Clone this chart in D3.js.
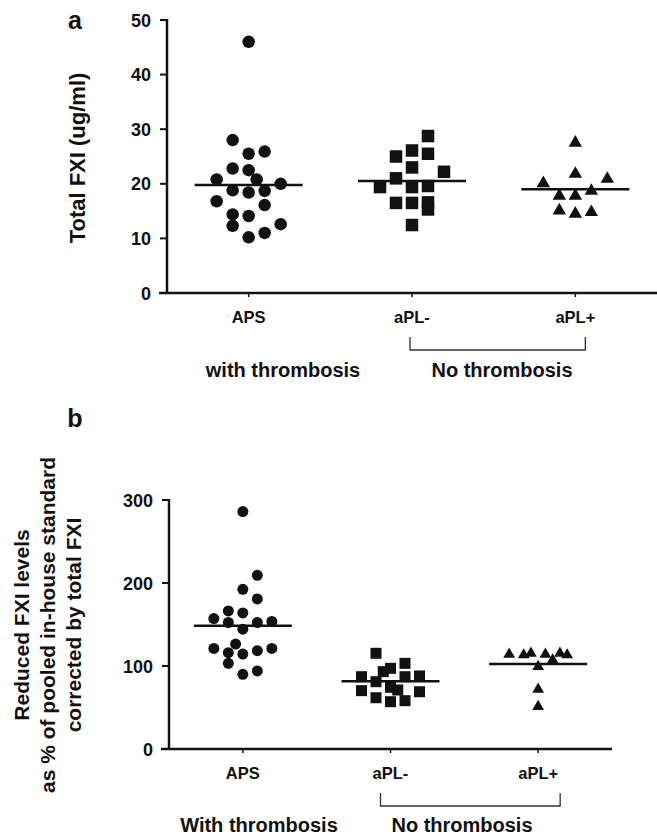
<!DOCTYPE html>
<html lang="en">
<head>
    <meta charset="UTF-8">
    <title>Total and reduced FXI</title>
    <script src="https://d3js.org/d3.v7.min.js"></script>
    <style>
        body {
            margin: 0;
            background: #fff;
        }
        svg {
            display: block;
        }
        text {
            font-family: "Liberation Sans", Arial, sans-serif;
            font-weight: bold;
            fill: #111;
        }
        .tick-label { font-size: 18px; }
        .cat-label { font-size: 16.5px; }
        .group-label { font-size: 20px; }
        .panel-letter { font-size: 25px; }
        .title-a { font-size: 22px; }
        .title-b { font-size: 21px; }
    </style>
</head>
<body>
<svg id="chart" width="657" height="836"></svg>
<script>
// Groups on the x axis
const groups = ["APS", "aPL-", "aPL+"];

// Panel a: Total FXI (ug/ml)
const totalAps      = [46.0, 28.0, 25.5, 25.9, 22.8, 22.5, 20.8, 20.8, 20.0, 18.8, 18.4, 18.7, 16.8, 16.1, 14.4, 14.1, 12.3, 12.6, 10.2, 11.0];
const totalApsLane  = [0, -1, 0, 1, -1, 0, -2, 0.5, 2, -1, 0, 1, -2, 1, -1, 0, -1, 2, 0, 1];
const totalNeg      = [28.75, 26.1, 25.0, 25.5, 23.0, 22.2, 21.0, 19.4, 19.4, 19.6, 16.5, 16.5, 16.6, 15.3, 12.45];
const totalNegLane  = [1, 0, -1, 1, 0, 2, -1, -2, 0, 1, -1, 0, 1, 1, 0];
const totalPos      = [27.5, 21.8, 20.9, 20.1, 17.8, 17.8, 18.7, 15.1, 14.5, 14.8];
const totalPosLane  = [0, 0, 2, -2, -1, 0, 1, -1, 0, 1];
const totalMedians  = [19.8, 20.5, 19.0];
const totalTicks    = [0, 10, 20, 30, 40, 50];

// Panel b: reduced FXI, % of pooled standard corrected by total FXI
const reducedAps     = [286, 209.2, 192.4, 180.8, 166.4, 164, 157.2, 152.4, 152.4, 153.6, 144.4, 126.4, 121.2, 116, 114.4, 118.4, 121.2, 103.2, 90, 94];
const reducedApsLane = [0, 1, 0, 1, -1, 0, -2, -1, 1, 2, 0, -0.5, -2, -1, 0, 1, 2, -1, 0, 1];
const reducedNeg     = [115.3, 87.1, 70.3, 81.1, 61.8, 93.2, 97.2, 74.3, 57, 71.1, 103.2, 87.1, 58.2, 88, 69];
const reducedNegLane = [-1, -2, -2, -1, -1, -0.5, 0, 0, 0, 0.5, 1, 1, 1, 2, 2];
const reducedPos     = [114.1, 113.3, 115.3, 114.1, 115.3, 113.3, 107.2, 99.2, 71.9, 51];
const reducedPosLane = [-2, -1, -0.5, 0.5, 1.5, 2, 1, 0, 0, 0];
const reducedMedians = [148.4, 81.5, 102.4];
const reducedTicks   = [0, 100, 200, 300];

const svg = d3.select("#chart");
svg.append("rect").attr("width", 657).attr("height", 836).attr("fill", "#fff");

function drawPanel(p) {
    const g = svg.append("g");
    const x = d3.scalePoint().domain(groups).range([p.left, p.right]).padding(0.5);
    const y = d3.scaleLinear().domain(p.yDomain).range([p.bottom, p.top]);
    const lane = d3.scaleLinear().domain([-2, 2]).range([-p.laneSpread, p.laneSpread]);

    // y axis line + ticks
    g.append("line")
        .attr("x1", p.left).attr("x2", p.left)
        .attr("y1", y(p.yDomain[0]) + 1).attr("y2", y(p.yDomain[1]) - 1)
        .attr("stroke", "#111").attr("stroke-width", 2.5);
    g.selectAll(".ytick").data(p.ticks).join("line")
        .attr("x1", p.left - 7).attr("x2", p.left)
        .attr("y1", d => y(d)).attr("y2", d => y(d))
        .attr("stroke", "#111").attr("stroke-width", 2);
    g.selectAll(".ylab").data(p.ticks).join("text")
        .attr("class", "tick-label")
        .attr("x", p.left - 16).attr("y", d => y(d) + 6.5)
        .attr("text-anchor", "end")
        .text(d => d);

    // x axis line + ticks
    g.append("line")
        .attr("x1", p.left - 8).attr("x2", p.axisEnd)
        .attr("y1", p.bottom).attr("y2", p.bottom)
        .attr("stroke", "#111").attr("stroke-width", 2.5);
    g.selectAll(".xtick").data(groups).join("line")
        .attr("x1", d => x(d)).attr("x2", d => x(d))
        .attr("y1", p.bottom).attr("y2", p.bottom + 4)
        .attr("stroke", "#111").attr("stroke-width", 1.5);
    g.selectAll(".xlab").data(groups).join("text")
        .attr("class", "cat-label")
        .attr("x", d => x(d)).attr("y", p.bottom + 30)
        .attr("text-anchor", "middle")
        .text(d => d);

    // points
    const circles = p.series[0].values.map((v, i) => ({ v, l: p.series[0].lanes[i] }));
    g.selectAll(".dot").data(circles).join("circle")
        .attr("cx", d => x(groups[0]) + lane(d.l))
        .attr("cy", d => y(d.v))
        .attr("r", p.marker / 2)
        .attr("fill", "#111");

    const squares = p.series[1].values.map((v, i) => ({ v, l: p.series[1].lanes[i] }));
    g.selectAll(".sq").data(squares).join("rect")
        .attr("x", d => x(groups[1]) + lane(d.l) - p.marker / 2)
        .attr("y", d => y(d.v) - p.marker / 2)
        .attr("width", p.marker).attr("height", p.marker)
        .attr("fill", "#111");

    const tri = d3.symbol().type(d3.symbolTriangle).size(p.marker * p.marker * 0.5);
    const triangles = p.series[2].values.map((v, i) => ({ v, l: p.series[2].lanes[i] }));
    g.selectAll(".tri").data(triangles).join("path")
        .attr("d", tri)
        .attr("transform", d => `translate(${x(groups[2]) + lane(d.l)},${y(d.v)})`)
        .attr("fill", "#111");

    // median lines
    g.selectAll(".med").data(p.medians).join("line")
        .attr("x1", (d, i) => x(groups[i]) - p.medHalf)
        .attr("x2", (d, i) => x(groups[i]) + p.medHalf)
        .attr("y1", d => y(d)).attr("y2", d => y(d))
        .attr("stroke", "#111").attr("stroke-width", 2.5);

    // bracket under aPL- / aPL+
    const bx0 = x(groups[1]) + p.bracket[0], bx1 = x(groups[2]) + p.bracket[1];
    const by0 = p.bottom + 44, by1 = p.bottom + 57;
    g.append("path")
        .attr("d", `M${bx0},${by0}V${by1}H${bx1}V${by0}`)
        .attr("fill", "none").attr("stroke", "#333").attr("stroke-width", 1.3);

    g.append("text").attr("class", "group-label")
        .attr("x", p.withX).attr("y", p.bottom + p.groupDy)
        .attr("text-anchor", "middle").text(p.withText);
    g.append("text").attr("class", "group-label")
        .attr("x", p.noX).attr("y", p.bottom + p.groupDy)
        .attr("text-anchor", "middle").text("No thrombosis");

    g.append("text").attr("class", "panel-letter")
        .attr("x", 75).attr("y", p.letterY)
        .attr("text-anchor", "middle").text(p.letter);

    p.title.forEach(t => {
        g.append("text").attr("class", p.titleClass)
            .attr("transform", `translate(${t.x},${p.titleY}) rotate(-90)`)
            .attr("text-anchor", "middle").text(t.text);
    });
}

drawPanel({
    letter: "a", letterY: 29,
    left: 167, right: 657, axisEnd: 657,
    top: 20, bottom: 293, yDomain: [0, 50], ticks: totalTicks,
    laneSpread: 32, marker: 12.5, medHalf: 54,
    series: [
        { values: totalAps, lanes: totalApsLane },
        { values: totalNeg, lanes: totalNegLane },
        { values: totalPos, lanes: totalPosLane }
    ],
    medians: totalMedians,
    bracket: [-2, 10],
    withText: "with thrombosis", withX: 283, noX: 502, groupDy: 84,
    titleY: 158, titleClass: "title-a",
    title: [{ x: 85, text: "Total FXI (ug/ml)" }]
});

drawPanel({
    letter: "b", letterY: 427,
    left: 169, right: 612, axisEnd: 612,
    top: 500, bottom: 749, yDomain: [0, 300], ticks: reducedTicks,
    laneSpread: 29, marker: 11, medHalf: 49,
    series: [
        { values: reducedAps, lanes: reducedApsLane },
        { values: reducedNeg, lanes: reducedNegLane },
        { values: reducedPos, lanes: reducedPosLane }
    ],
    medians: reducedMedians,
    bracket: [-10, 22],
    withText: "With thrombosis", withX: 259, noX: 462, groupDy: 83,
    titleY: 625, titleClass: "title-b",
    title: [
        { x: 29, text: "Reduced FXI levels" },
        { x: 55, text: "as % of pooled in-house standard" },
        { x: 81, text: "corrected by total FXI" }
    ]
});
</script>
</body>
</html>
